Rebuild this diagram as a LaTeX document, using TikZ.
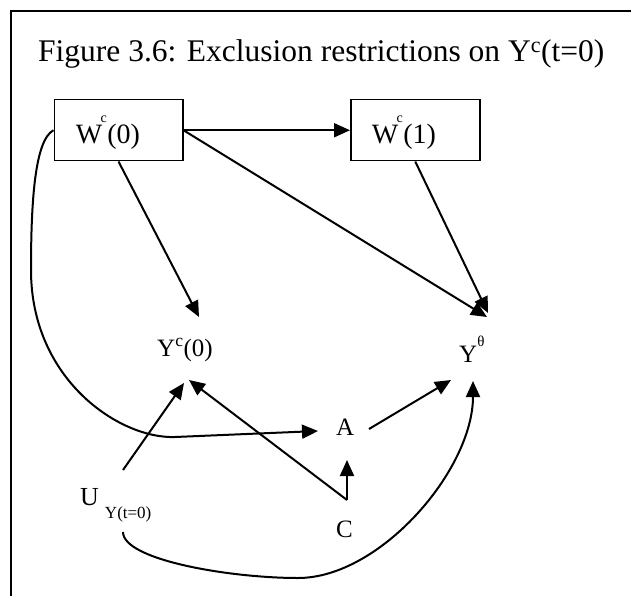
\documentclass[tikz,border=0pt]{standalone}
\usepackage{fontspec}
\setmainfont{Liberation Serif}
\usetikzlibrary{arrows.meta,calc}
\newcommand\wsup{\kern-1.5pt\raisebox{21pt}{\fontsize{14}{14}\selectfont c}\kern0.5pt}
\begin{document}
\begin{tikzpicture}[x=1pt,y=-1pt,
  edge/.style={line width=2pt,-{Triangle[length=16pt,width=14pt]}},
  box/.style={draw,line width=1.5pt,minimum height=61pt,inner ysep=0pt,align=left,
    anchor=north west,text height=27pt,text depth=0pt,font=\fontsize{28}{28}\selectfont},
  lbl/.style={inner sep=0pt,anchor=base west,font=\fontsize{25}{25}\selectfont}]
\useasboundingbox (0,0) rectangle (631,596);
\draw[line width=2pt] (631,11) -- (11,11) -- (11,596);
\node[lbl,font=\fontsize{31.5}{31.5}\selectfont] (title) at (38,62) {Figure 3.6: Exclusion restrictions on Y\textsuperscript{c}(t=0)};
\node[box,minimum width=128.5pt,text width=85.5pt,inner xsep=21.5pt] (w0) at (53.5,99) {W\wsup(0)};
\node[box,minimum width=129pt,text width=87pt,inner xsep=21pt] (w1) at (350,99) {W\wsup(1)};
\node[lbl] (yc0) at (157,356) {Y\textsuperscript{c}(0)};
\node[lbl] (yth) at (459,362) {Y\raisebox{16pt}{\fontsize{15}{15}\selectfont θ}};
\node[lbl] (a) at (336,435) {A};
\node[lbl] (c) at (336,537) {C};
\node[lbl,font=\fontsize{26}{26}\selectfont] (u) at (80,505) {U\kern6pt\raisebox{-13pt}{\fontsize{17}{17}\selectfont Y(t=0)}};
% connectors
\draw[edge] (w0.east) -- (w1.west);
\draw[edge] (w0.south) -- ($(yc0.base west)+(42,-39)$);
\draw[edge] (w0.east) -- ($(yth.base west)+(28,-45)$);
\draw[edge] (w1.south) -- ($(yth.base west)+(29,-49)$);
\draw[edge] ($(u.base west)+(43,-35)$) -- ($(yc0.base west)+(27,27)$);
\draw[edge] ($(c.base west)+(11,-37)$) -- ($(yc0.base west)+(32,24)$);
\draw[edge] ($(c.base west)+(11,-37)$) -- ($(a.base west)+(11,25)$);
\draw[edge] ($(a.base west)+(33,-6)$) -- ($(yth.base west)+(-8,18)$);
\draw[edge] (w0.west) .. controls (35,140) and (31,200) .. (31,270)
  .. controls (31,380) and (120,439) .. (175,437) -- ($(a.base west)+(-18,-4)$);
\draw[edge] ($(u.base west)+(43,27)$) .. controls (123,560) and (230,578) .. (298,578)
  .. controls (380,578) and (473,470) .. ($(yth.base west)+(14,19)$);
\end{tikzpicture}
\end{document}
